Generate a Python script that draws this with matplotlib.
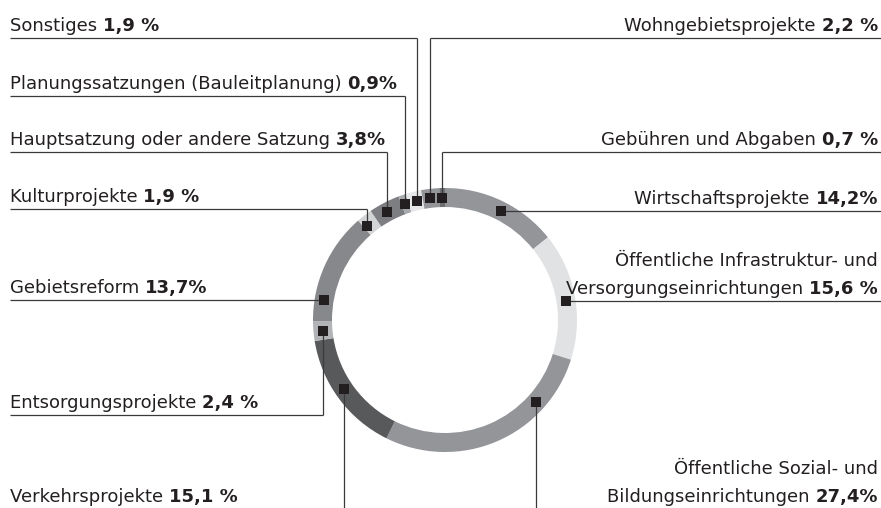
import numpy as np
import matplotlib
matplotlib.use('Agg')
import matplotlib.pyplot as plt

# Daten (im Uhrzeigersinn ab 12 Uhr)
kategorien = [
    "Wirtschaftsprojekte",
    "Öffentliche Infrastruktur- und\nVersorgungseinrichtungen",
    "Öffentliche Sozial- und\nBildungseinrichtungen",
    "Verkehrsprojekte",
    "Entsorgungsprojekte",
    "Gebietsreform",
    "Kulturprojekte",
    "Hauptsatzung oder andere Satzung",
    "Planungssatzungen (Bauleitplanung)",
    "Sonstiges",
    "Wohngebietsprojekte",
    "Gebühren und Abgaben",
]
anteile = [14.2, 15.6, 27.4, 15.1, 2.4, 13.7, 1.9, 3.8, 0.9, 1.9, 2.2, 0.7]

farben = ["#939598", "#e1e2e3", "#939598", "#58595b", "#b1b3b6", "#87888b",
          "#d1d3d4", "#7d7e81", "#a7a9ac", "#e6e7e8", "#939598", "#6d6e71"]

# Layout in Pixeln (y von oben gemessen)
W, H = 881, 508
CX, CY = 445, 320
R_OUT, RING = 132, 19
R_MID = R_OUT - RING / 2

# Seite, Art der Führungslinie, Linien-y, Linien-x
seite = ["R", "R", "R", "L", "L", "L", "L", "L", "L", "L", "R", "R"]
art = ["h", "h", "b", "b", "v", "h", "v", "v", "v", "v", "v", "v"]
linie_y = [211, 301, 509, 509, 415, 300, 209, 152, 96, 38, 38, 152]
linie_x = [None, None, 536, 344, 323, None, 367, 387, 405, 417, 430, 442]
prozent_abstand = ["", " ", "", " ", " ", "", " ", "", "", " ", " ", " "]

FONT = "DejaVu Sans"
FS = 13
TXT = "#231f20"
LINE = "#3a3a3a"

fig = plt.figure(figsize=(W / 100, H / 100), dpi=100)
ax = fig.add_axes([0, 0, 1, 1])

ax.pie(anteile, colors=farben, radius=R_OUT, center=(CX, H - CY),
       startangle=90, counterclock=False,
       wedgeprops=dict(width=RING, linewidth=0))
ax.set_xlim(0, W)
ax.set_ylim(0, H)
ax.set_aspect('auto')
ax.axis('off')


def Y(y):
    return H - y


for i, name in enumerate(kategorien):
    s, a, ly, lx = seite[i], art[i], linie_y[i], linie_x[i]

    # Markerposition auf der Ringmitte
    if a == "h":
        dx = np.sqrt(R_MID ** 2 - (ly - CY) ** 2)
        mx, my = (CX - dx if s == "L" else CX + dx), ly
    else:
        dy = np.sqrt(R_MID ** 2 - (lx - CX) ** 2)
        mx, my = lx, (CY - dy if ly < CY else CY + dy)

    # Führungslinien
    x_text_l, x_text_r = 10, 878
    if a == "h":
        xs = [10, mx] if s == "L" else [mx, W]
        ax.plot(xs, [Y(ly), Y(ly)], color=LINE, lw=0.9, solid_capstyle='butt')
    elif a == "v":
        xs = [10, lx] if s == "L" else [lx, W]
        ax.plot(xs, [Y(ly), Y(ly)], color=LINE, lw=0.9, solid_capstyle='butt')
        ax.plot([lx, lx], [Y(ly), Y(my)], color=LINE, lw=0.9, solid_capstyle='butt')
    else:
        ax.plot([lx, lx], [Y(my), 0], color=LINE, lw=0.9, solid_capstyle='butt')

    ax.plot(mx, Y(my), marker='s', ms=6.5, color="#231f20", mew=0, zorder=5)

    # Beschriftung: normaler Text + fetter Prozentwert
    zeilen = name.split("\n")
    wert = f"{anteile[i]:.1f}".replace(".", ",") + prozent_abstand[i] + "%"
    base = ly - 7
    if s == "L":
        t = ax.text(x_text_l, Y(base), zeilen[-1] + " ", ha='left', va='baseline',
                    fontsize=FS, family=FONT, color=TXT)
        ax.annotate(wert, xy=(1, 0), xycoords=t, ha='left', va='bottom',
                    fontsize=FS, family=FONT, fontweight='bold', color=TXT)
    else:
        t = ax.text(x_text_r, Y(base), wert, ha='right', va='baseline',
                    fontsize=FS, family=FONT, fontweight='bold', color=TXT)
        ax.annotate(zeilen[-1] + " ", xy=(0, 0), xycoords=t, ha='right', va='bottom',
                    fontsize=FS, family=FONT, color=TXT)
        if len(zeilen) > 1:
            ax.text(x_text_r, Y(base - 28), zeilen[0], ha='right', va='baseline',
                    fontsize=FS, family=FONT, color=TXT)

fig.savefig("out.png", dpi=100)
